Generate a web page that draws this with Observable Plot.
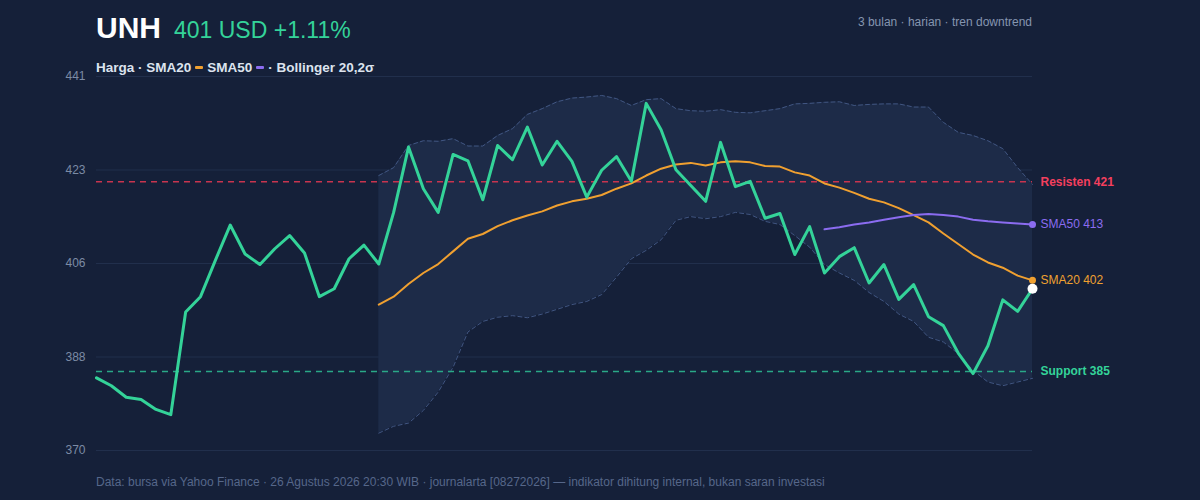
<!DOCTYPE html>
<html>
<head>
<meta charset="utf-8">
<script src="https://cdn.jsdelivr.net/npm/d3@7"></script>
<script src="https://cdn.jsdelivr.net/npm/@observablehq/plot@0.6"></script>
<style>
  html, body { margin: 0; padding: 0; background: #152039; }
  #wrap { position: relative; width: 1200px; height: 500px; overflow: hidden; background: #152039;
          font-family: "Liberation Sans", Arial, Helvetica, sans-serif; }
  .abs { position: absolute; line-height: 1; white-space: nowrap; }
  .sw { display: inline-block; width: 8px; height: 3px; vertical-align: 3px; margin: 0 4px; border-radius: 1px; }
  #chart { position: absolute; left: 0; top: 0; }
</style>
</head>
<body>
<div id="wrap">
  <div id="chart"></div>
  <div class="abs" style="left:96px; top:13px; font-size:30px; font-weight:bold; color:#ffffff;">UNH</div>
  <div class="abs" id="quote" style="left:174px; top:19px; font-size:23px; color:#34d399;"></div>
  <div class="abs" style="right:168px; top:16px; font-size:12px; color:#8595b0;">3 bulan · harian · tren downtrend</div>
  <div class="abs" style="left:96px; top:61px; font-size:13.5px; font-weight:bold; color:#dce3ee;">Harga · SMA20<span class="sw" style="background:#f0a030"></span>SMA50<span class="sw" style="background:#8b6cf0"></span>· Bollinger 20,2σ</div>
  <div class="abs" style="left:96px; top:476px; font-size:12px; color:#56678a;">Data: bursa via Yahoo Finance · 26 Agustus 2026 20:30 WIB · journalarta [08272026] — indikator dihitung internal, bukan saran investasi</div>
</div>
<script>
// ---- data ----
const price = [383.8, 382.3, 380.1, 379.7, 377.8, 376.8, 396.3, 399.2, 406.1, 412.8,
  407.3, 405.3, 408.3, 410.8, 407.5, 399.2, 400.7, 406.4, 409.0, 405.4,
  415.2, 427.6, 419.7, 415.2, 426.2, 425.0, 417.6, 427.9, 425.2, 431.4,
  424.2, 428.7, 424.9, 418.1, 423.2, 425.8, 421.1, 435.9, 430.9, 423.3,
  420.3, 417.3, 428.5, 420.1, 421.1, 414.1, 415.0, 407.2, 412.5, 403.7,
  406.8, 408.5, 401.8, 405.3, 398.7, 401.5, 395.4, 393.7, 388.5, 384.6,
  389.9, 398.6, 396.4, 400.7];
const sma20Start = 19;
const sma20 = [397.7, 399.2, 401.6, 403.7, 405.4, 407.8, 410.2, 411.1, 412.6, 413.7,
  414.6, 415.4, 416.5, 417.3, 417.8, 418.5, 419.7, 420.7, 422.2, 423.5,
  424.3, 424.6, 424.1, 424.7, 424.9, 424.7, 424.0, 423.9, 422.8, 422.2,
  420.7, 419.9, 418.9, 417.8, 417.1, 416.0, 414.7, 413.3, 411.2, 409.2,
  407.2, 405.7, 404.7, 403.2, 402.3];
const bbUpper = [422.2, 423.7, 427.9, 428.8, 428.7, 429.2, 427.8, 427.8, 429.8, 431.1,
  433.8, 434.9, 436.2, 436.9, 437.1, 437.4, 436.8, 435.5, 436.6, 436.8,
  434.9, 434.5, 434.4, 434.7, 434.2, 434.1, 434.5, 434.9, 435.8, 435.9,
  436.1, 436.2, 435.5, 435.7, 435.8, 435.8, 435.2, 435.2, 432.3, 430.4,
  429.8, 428.8, 427.3, 423.7, 420.5];
const bbLower = [373.3, 374.6, 375.2, 377.6, 381.1, 385.8, 392.5, 394.5, 395.3, 395.6,
  395.2, 395.9, 396.8, 397.7, 398.3, 399.6, 402.9, 406.4, 408.0, 410.0,
  413.7, 414.4, 414.0, 414.4, 415.2, 414.8, 413.5, 412.9, 410.8, 408.6,
  405.3, 403.7, 402.3, 400.0, 398.3, 395.9, 394.5, 391.5, 390.6, 388.4,
  385.2, 383.0, 382.3, 383.0, 383.7];
const sma50Start = 49;
const sma50 = [412.0, 412.4, 412.9, 413.3, 413.8, 414.3, 414.7, 414.9, 414.7, 414.4,
  413.8, 413.5, 413.3, 413.1, 412.9];
const resistance = 421;
const support = 385;
const yTicks = [370, 387.75, 405.5, 423.25, 441];
const changePct = 1.11;

// ---- colours ----
const C = {
  price: "#34d399", sma20: "#f0a030", sma50: "#8b6cf0",
  res: "#c8344f", resText: "#f43f5e", sup: "#2aa887", supText: "#34d399",
  band: "#1d2b48", bandEdge: "#415682", grid: "#212f4c", tick: "#7c8ba5"
};

// ---- tables ----
const priceData = price.map((v, i) => ({i, v}));
const smaData = sma20.map((v, k) => ({i: sma20Start + k, v, up: bbUpper[k], lo: bbLower[k]}));
const sma50Data = sma50.map((v, k) => ({i: sma50Start + k, v}));
const last = price.length - 1;
const lastPrice = price[last];
const lastSma20 = sma20[sma20.length - 1];
const lastSma50 = sma50[sma50.length - 1];

document.getElementById("quote").textContent =
  `${Math.round(lastPrice)} USD +${changePct.toFixed(2)}%`;

const boldLabels = [
  {v: resistance, text: `Resisten ${resistance}`, color: C.resText},
  {v: support, text: `Support ${support}`, color: C.supText}
];
const plainLabels = [
  {v: lastSma50, text: `SMA50 ${Math.round(lastSma50)}`, color: C.sma50},
  {v: lastSma20, text: `SMA20 ${Math.round(lastSma20)}`, color: C.sma20}
];

const chart = Plot.plot({
  width: 1200,
  height: 500,
  marginLeft: 96,
  marginRight: 168,
  marginTop: 76,
  marginBottom: 50,
  style: {background: "transparent", fontFamily: "Liberation Sans, Arial, sans-serif", overflow: "visible"},
  x: {domain: [0, last], axis: null},
  y: {domain: [370, 441], axis: null},
  marks: [
    Plot.gridY(yTicks, {stroke: C.grid, strokeOpacity: 1, strokeWidth: 1}),
    Plot.axisY(yTicks, {tickSize: 0, tickPadding: 11, tickFormat: d => Math.round(d),
      color: C.tick, fontSize: 12}),
    Plot.areaY(smaData, {x: "i", y1: "lo", y2: "up", fill: C.band, fillOpacity: 1}),
    Plot.lineY(smaData, {x: "i", y: "up", stroke: C.bandEdge, strokeWidth: 1, strokeDasharray: "4,3"}),
    Plot.lineY(smaData, {x: "i", y: "lo", stroke: C.bandEdge, strokeWidth: 1, strokeDasharray: "4,3"}),
    Plot.ruleY([resistance], {stroke: C.res, strokeWidth: 1.5, strokeDasharray: "6,5"}),
    Plot.ruleY([support], {stroke: C.sup, strokeWidth: 1.5, strokeDasharray: "6,5"}),
    Plot.lineY(smaData, {x: "i", y: "v", stroke: C.sma20, strokeWidth: 2}),
    Plot.lineY(sma50Data, {x: "i", y: "v", stroke: C.sma50, strokeWidth: 2}),
    Plot.lineY(priceData, {x: "i", y: "v", stroke: C.price, strokeWidth: 3, strokeLinejoin: "round"}),
    Plot.dot([lastSma50], {x: () => last, y: d => d, r: 3.5, fill: C.sma50}),
    Plot.dot([lastSma20], {x: () => last, y: d => d, r: 3.5, fill: C.sma20}),
    Plot.dot([lastPrice], {x: () => last, y: d => d, r: 5, fill: "#ffffff"}),
    Plot.text(boldLabels, {x: () => last, y: "v", text: "text", fill: d => d.color,
      fontWeight: "bold", dx: 8, textAnchor: "start", fontSize: 12}),
    Plot.text(plainLabels, {x: () => last, y: "v", text: "text", fill: d => d.color,
      dx: 8, textAnchor: "start", fontSize: 12})
  ]
});
document.getElementById("chart").appendChild(chart);
</script>
</body>
</html>
